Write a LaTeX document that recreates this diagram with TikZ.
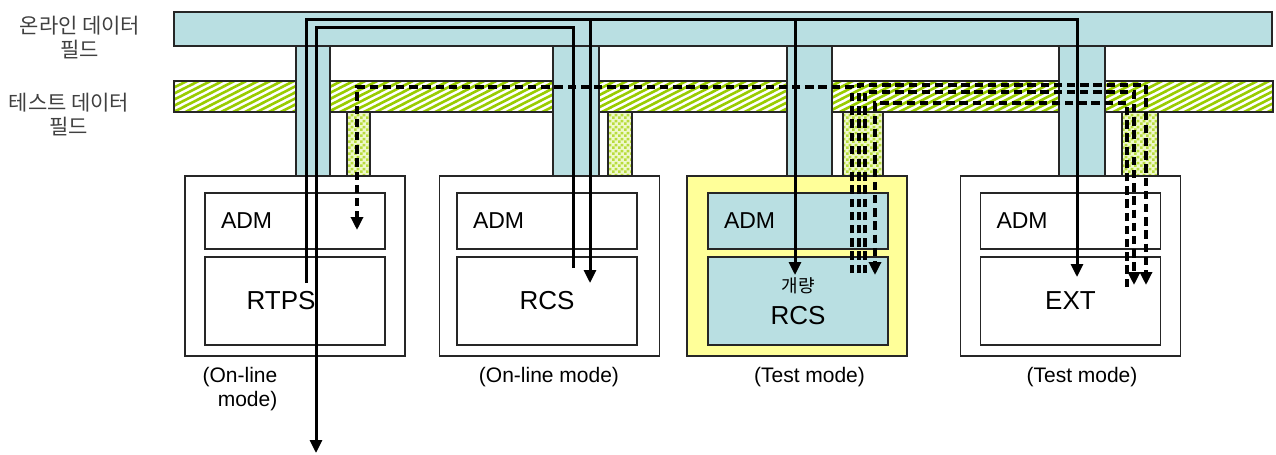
\documentclass[tikz,border=0pt]{standalone}
\usepackage{fontspec}
\setmainfont{Liberation Sans}
\newfontfamily\krfont{Noto Sans CJK KR}
\usetikzlibrary{arrows.meta,patterns.meta}

\definecolor{fieldblue}{HTML}{B9DFE2}
\definecolor{testyellow}{HTML}{FFFF99}
\definecolor{hatchgreen}{HTML}{99CC00}
\definecolor{checkgreen}{HTML}{B8DC3C}
\definecolor{checkbase}{HTML}{EFF8CC}

\tikzdeclarepattern{
  name=fieldstripes,
  type=uncolored,
  bounding box={(-0.1pt,-0.8pt) and (2.8pt,0.8pt)},
  tile size={(2.7pt,2.7pt)},
  tile transformation={rotate=27},
  code={\draw[line width=1.3pt] (-0.1pt,0) -- (2.8pt,0);}
}
\tikzdeclarepattern{
  name=fieldchecks,
  type=uncolored,
  bounding box={(0,0) and (3pt,3pt)},
  tile size={(3pt,3pt)},
  code={\fill (0,0) rectangle (1.5pt,1.5pt); \fill (1.5pt,1.5pt) rectangle (3pt,3pt);}
}

\begin{document}
\begin{tikzpicture}[
x=0.5pt, y=-0.5pt,
>={Triangle[length=6.5pt,width=6pt]},
field/.style={draw=black!85, line width=0.6pt, fill=fieldblue},
tfield/.style={draw=black!85, line width=0.6pt,
	preaction={fill=white}, pattern=fieldstripes, pattern color=hatchgreen},
tstub/.style={draw=black!85, line width=0.6pt,
	preaction={fill=checkbase}, pattern=fieldchecks, pattern color=checkgreen},
unit/.style={draw=black!85, line width=0.6pt, fill=white,
	minimum width=110pt, minimum height=90pt},
adm/.style={draw=black!85, line width=0.6pt, fill=white,
	text width=74pt, align=left, inner sep=8pt, minimum height=28pt,
	font=\fontsize{11.5}{13}\selectfont},
core/.style={draw=black!85, line width=0.6pt, fill=white,
	minimum width=90pt, minimum height=44pt, align=center,
	font=\fontsize{13}{13}\selectfont},
lbl/.style={font=\fontsize{10.5}{12}\selectfont, inner sep=0pt},
fieldlbl/.style={font=\krfont\fontsize{10.5}{12}\selectfont, text=black!75,
	align=center, inner sep=0pt},
sol/.style={line width=1.5pt},
dsh/.style={line width=1.6pt, dash pattern=on 4.2pt off 2.4pt}
]
\useasboundingbox (0,0) rectangle (1276,455);

% data fields
\draw[field] (174,12) rectangle (1272,46);
\draw[tfield] (174,81) rectangle (1273,112);
\foreach \l/\r in {296/330,553/599,787/832,1059/1105}
	\draw[field] (\l,46) rectangle (\r,176);
\foreach \l/\r in {347/370,608/632,843/883,1122/1158}
	\draw[tstub] (\l,112) rectangle (\r,176);

\node[fieldlbl] (onfield) at (80,38) {온라인 데이터\\필드};
\node[fieldlbl] (testfield) at (69,115) {테스트 데이터\\필드};

% units
\node[unit] (u1) at (295,266) {};
\node[unit] (u2) at (549.5,266) {};
\node[unit,fill=testyellow] (u3) at (797,266) {};
\node[unit] (u4) at (1070.5,266) {};

\node[adm] (adm1) at (295,221) {ADM};
\node[adm] (adm2) at (547,221) {ADM};
\node[adm,fill=fieldblue] (adm3) at (798,221) {ADM};
\node[adm] (adm4) at (1070.5,221) {ADM};

\node[core] (rtps) at (295,301) {RTPS\hspace*{14pt}};
\node[core] (rcs) at (547,301) {RCS};
\node[core,fill=fieldblue] (trcs) at (798,301)
	{{\krfont\fontsize{9}{9}\selectfont 개량}\\[3pt]RCS};
\node[core] (ext) at (1070.5,301) {EXT};

\node[lbl,align=right] (mode1) at (240,389) {(On-line\\mode)};
\node[lbl] (mode2) at (549,377) {(On-line mode)};
\node[lbl] (mode3) at (809.5,377) {(Test mode)};
\node[lbl] (mode4) at (1082,377) {(Test mode)};

% on-line data flow
\coordinate (rtpsout) at (306,283);
\coordinate (rcsout) at (573,268);
\coordinate (rcsin) at (590,283);
\coordinate (trcsin) at (795,275);
\coordinate (extin) at (1077,277);
\coordinate (sink) at (316,453);
\coordinate (bus1) at (590,19);
\coordinate (bus2) at (795,19);
\coordinate (bus3) at (316,27);
\draw[sol,->] (rtpsout) |- (bus1) -- (rcsin);
\draw[sol,->] (bus1) -| (trcsin);
\draw[sol,->] (bus2) -| (extin);
\draw[sol,->] (rcsout) |- (bus3) -- (sink);

% test data flow
\coordinate (tout1) at (852,273);
\coordinate (tout2) at (859,273);
\coordinate (tout3) at (865,273);
\coordinate (trcsback) at (875,275);
\coordinate (extout) at (1127,287);
\coordinate (extin1) at (1134,285);
\coordinate (extin2) at (1146,285);
\coordinate (admin) at (357,230);
\coordinate (tbus1) at (357,87);
\coordinate (tbus2) at (1146,85);
\coordinate (tbus3) at (1134,92);
\coordinate (tbus4) at (875,103);
\draw[dsh,->] (tout1) |- (tbus1) -- (admin);
\draw[dsh,->] (tout2) |- (tbus2) -- (extin2);
\draw[dsh,->] (tout3) |- (tbus3) -- (extin1);
\draw[dsh,->] (extout) |- (tbus4) -- (trcsback);
\end{tikzpicture}
\end{document}
